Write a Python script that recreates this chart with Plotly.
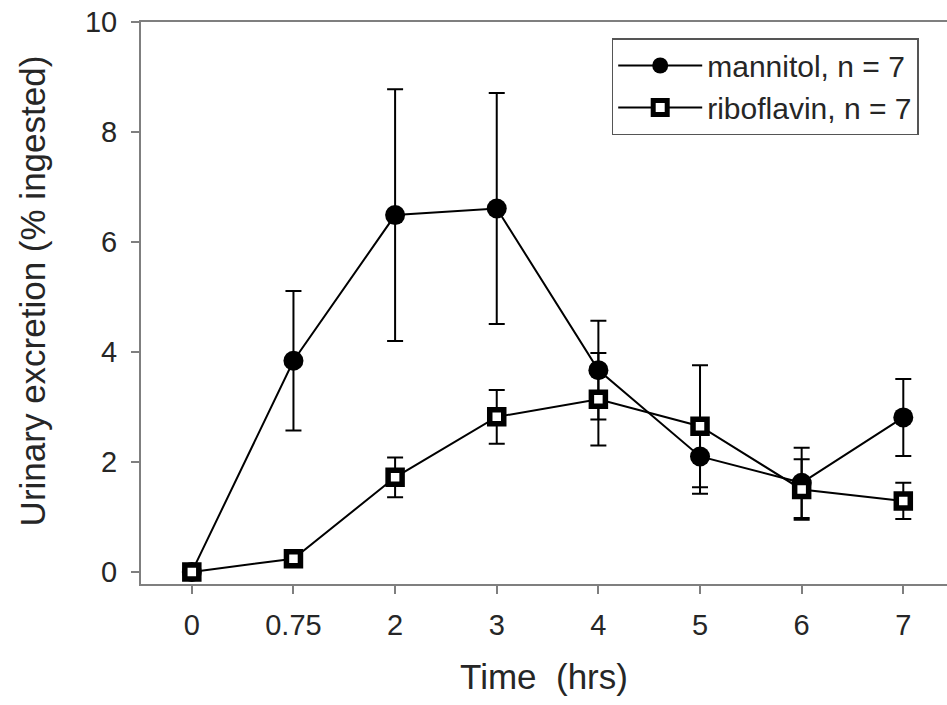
import plotly.graph_objects as go

time_labels = ["0", "0.75", "2", "3", "4", "5", "6", "7"]
mannitol = [0.0, 3.84, 6.49, 6.61, 3.67, 2.10, 1.62, 2.81]
mannitol_err = [0.0, 1.27, 2.29, 2.10, 0.90, 0.68, 0.64, 0.70]
riboflavin = [0.0, 0.24, 1.72, 2.82, 3.14, 2.65, 1.50, 1.29]
riboflavin_err = [0.0, 0.0, 0.36, 0.49, 0.84, 1.11, 0.55, 0.33]

FONT = "Liberation Sans, Arial, sans-serif"
TXT = "#262626"
AX = "#7f7f7f"

fig = go.Figure()
fig.add_trace(go.Scatter(
    x=time_labels, y=mannitol, name="mannitol, n = 7", mode="lines+markers",
    line=dict(color="black", width=2),
    marker=dict(symbol="circle", size=20, color="black"),
    error_y=dict(type="data", array=mannitol_err, visible=True, color="black", thickness=2, width=8),
))
fig.add_trace(go.Scatter(
    x=time_labels, y=riboflavin, name="riboflavin, n = 7", mode="lines+markers",
    line=dict(color="black", width=2),
    marker=dict(symbol="square", size=14, color="white", line=dict(color="black", width=5.5)),
    error_y=dict(type="data", array=riboflavin_err, visible=True, color="black", thickness=2, width=8),
))

fig.update_layout(
    width=947, height=705,
    margin=dict(l=141, r=0, t=22, b=121, autoexpand=False),
    paper_bgcolor="white", plot_bgcolor="white",
    font=dict(family=FONT, color=TXT, size=29),
    showlegend=True,
    legend=dict(
        x=0.584, y=0.9715, xanchor="left", yanchor="top",
        bordercolor="#555555", borderwidth=1.5, bgcolor="white",
        font=dict(size=30, family=FONT, color=TXT),
        tracegroupgap=0, itemwidth=84,
    ),
    xaxis=dict(
        type="category", range=[-0.5, 7.43], automargin=False,
        showline=True, linecolor=AX, linewidth=2, mirror=True,
        ticks="outside", ticklen=8, tickcolor=AX, tickwidth=2,
        showgrid=False, zeroline=False,
        tickfont=dict(size=29, family=FONT, color=TXT),
        ticklabelstandoff=6,
        title=dict(text="Time  (hrs)", font=dict(size=35, family=FONT, color=TXT), standoff=25),
    ),
    yaxis=dict(
        range=[-0.22, 10.002], tickvals=[0, 2, 4, 6, 8, 10], automargin=False,
        showline=True, linecolor=AX, linewidth=2, mirror=False,
        ticks="outside", ticklen=8, tickcolor=AX, tickwidth=2,
        showgrid=False, zeroline=False,
        tickfont=dict(size=29, family=FONT, color=TXT),
        ticklabelstandoff=8, ticklabeloverflow="allow",
    ),
    annotations=[dict(
        text="Urinary excretion (% ingested)", textangle=-90,
        xref="paper", yref="paper", x=-0.135, y=0.521,
        xanchor="center", yanchor="middle", showarrow=False,
        font=dict(size=35, family=FONT, color=TXT),
    )],
)

fig.write_html("out.html", config={"displayModeBar": False},
               post_script="document.body.style.margin='0';")
